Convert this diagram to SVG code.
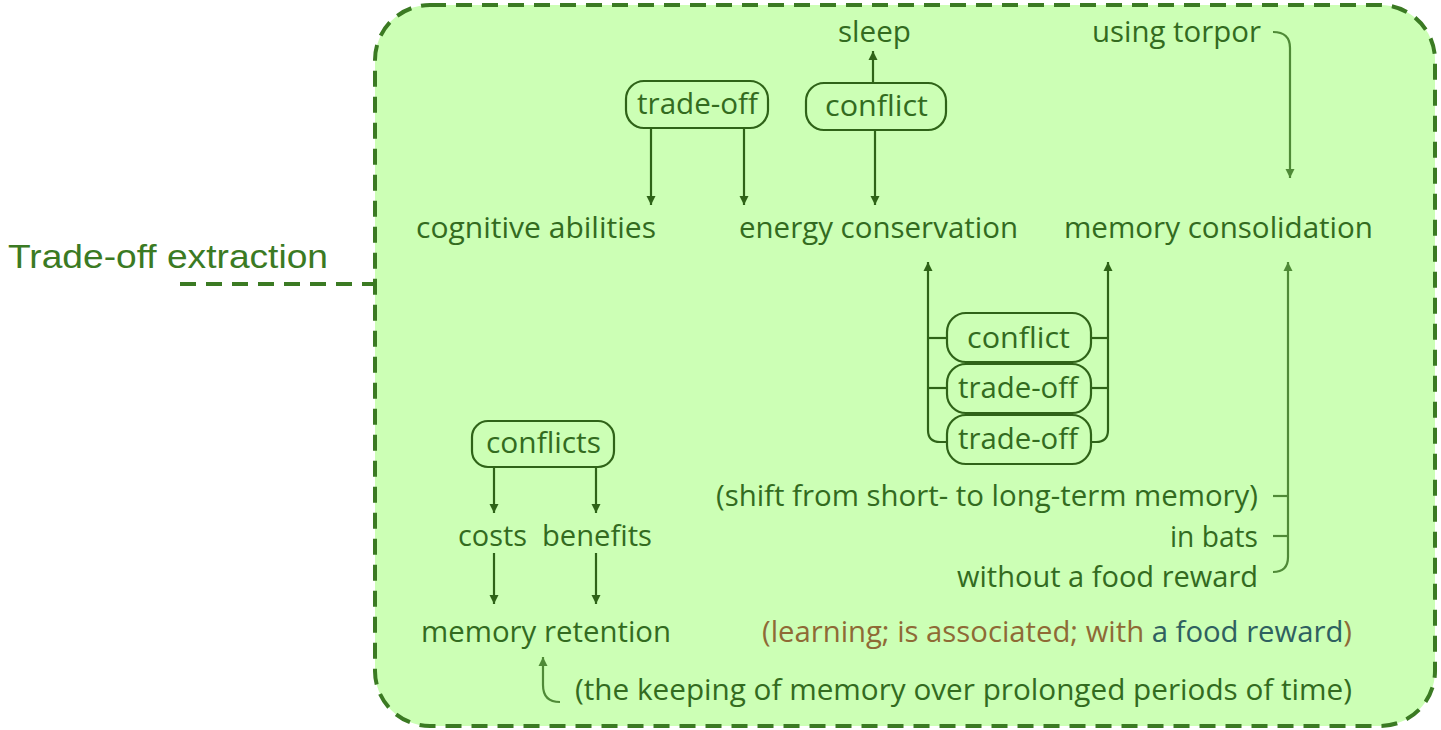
<svg xmlns="http://www.w3.org/2000/svg" width="1441" height="730" viewBox="0 0 1441 730">
<style>
.t{font-family:"Open Sans","Noto Sans",sans-serif;font-size:29px;fill:#336b1f}
.box{fill:none;stroke:#2f6318;stroke-width:2.2}
.ln{fill:none;stroke:#2f6318;stroke-width:2.2}
.lt{fill:none;stroke:#4f8a37;stroke-width:2.2}
.br{fill:#8f6a35}
.tl{fill:#2f6060}
</style>
<defs>
<marker id="ah" viewBox="0 0 10 10" refX="10" refY="5" markerWidth="9" markerHeight="10" markerUnits="userSpaceOnUse" orient="auto"><path d="M0,0 L10,5 L0,10 z" fill="#2f6318"/></marker>
<marker id="ahl" viewBox="0 0 10 10" refX="10" refY="5" markerWidth="9" markerHeight="10" markerUnits="userSpaceOnUse" orient="auto"><path d="M0,0 L10,5 L0,10 z" fill="#4f8a37"/></marker>
</defs>
<g id="frame">
<rect x="375" y="5" width="1060" height="721" rx="55" fill="#ccffb5" stroke="#3b7a23" stroke-width="4" stroke-dasharray="16,10"/>
<path d="M180,284 H375" fill="none" stroke="#3b7a23" stroke-width="4" stroke-dasharray="16,10"/>
<text x="8" y="268" font-family="Liberation Sans, Arial, sans-serif" font-size="33" fill="#3b7a23" textLength="320" lengthAdjust="spacingAndGlyphs">Trade-off extraction</text>
</g>
<g id="connectors">
<path class="ln" d="M873,83 V51" marker-end="url(#ah)"/>
<path class="ln" d="M875,130 V205" marker-end="url(#ah)"/>
<path class="ln" d="M651,128 V205" marker-end="url(#ah)"/>
<path class="ln" d="M744,128 V205" marker-end="url(#ah)"/>
<path class="lt" d="M1273,32 Q1290,32 1290,48 V178" marker-end="url(#ahl)"/>
<path class="ln" d="M928,430 V262" marker-end="url(#ah)"/>
<path class="ln" d="M947,442 H940 Q928,442 928,430"/>
<path class="ln" d="M928,338 H947"/>
<path class="ln" d="M928,388 H947"/>
<path class="ln" d="M1108,430 V262" marker-end="url(#ah)"/>
<path class="ln" d="M1091,442 H1096 Q1108,442 1108,430"/>
<path class="ln" d="M1091,338 H1108"/>
<path class="ln" d="M1091,388 H1108"/>
<path class="lt" d="M1273,572 Q1288,572 1288,557 V262" marker-end="url(#ahl)"/>
<path class="lt" d="M1273,496 H1288"/>
<path class="lt" d="M1273,536 H1288"/>
<path class="ln" d="M494,467 V513" marker-end="url(#ah)"/>
<path class="ln" d="M596,467 V513" marker-end="url(#ah)"/>
<path class="ln" d="M494,553 V604" marker-end="url(#ah)"/>
<path class="ln" d="M596,553 V604" marker-end="url(#ah)"/>
<path class="lt" d="M560,702 Q543,702 543,685 V657" marker-end="url(#ahl)"/>
</g>
<g id="n-sleep"><text class="t" x="838" y="42" textLength="73" lengthAdjust="spacingAndGlyphs">sleep</text></g>
<g id="n-torpor"><text class="t" x="1092" y="42" textLength="169" lengthAdjust="spacingAndGlyphs">using torpor</text></g>
<g id="n-tradeoff1"><rect class="box" x="626" y="81" width="142" height="47" rx="18"/><text class="t" x="637" y="114" textLength="121" lengthAdjust="spacingAndGlyphs">trade-off</text></g>
<g id="n-conflict1"><rect class="box" x="806" y="83" width="140" height="47" rx="18"/><text class="t" x="825" y="116" textLength="103" lengthAdjust="spacingAndGlyphs">conflict</text></g>
<g id="n-cognitive"><text class="t" x="416" y="238" textLength="240" lengthAdjust="spacingAndGlyphs">cognitive abilities</text></g>
<g id="n-energy"><text class="t" x="739" y="238" textLength="279" lengthAdjust="spacingAndGlyphs">energy conservation</text></g>
<g id="n-consolidation"><text class="t" x="1064" y="238" textLength="309" lengthAdjust="spacingAndGlyphs">memory consolidation</text></g>
<g id="n-conflict2"><rect class="box" x="947" y="313" width="144" height="49" rx="19"/><text class="t" x="967" y="348" textLength="103" lengthAdjust="spacingAndGlyphs">conflict</text></g>
<g id="n-tradeoff2"><rect class="box" x="947" y="364" width="144" height="49" rx="19"/><text class="t" x="958" y="398" textLength="120" lengthAdjust="spacingAndGlyphs">trade-off</text></g>
<g id="n-tradeoff3"><rect class="box" x="947" y="415" width="144" height="49" rx="19"/><text class="t" x="958" y="449" textLength="120" lengthAdjust="spacingAndGlyphs">trade-off</text></g>
<g id="n-shift"><text class="t" x="716" y="506" textLength="542" lengthAdjust="spacingAndGlyphs">(shift from short- to long-term memory)</text></g>
<g id="n-bats"><text class="t" x="1170" y="547" textLength="88" lengthAdjust="spacingAndGlyphs">in bats</text></g>
<g id="n-without"><text class="t" x="957" y="587" textLength="301" lengthAdjust="spacingAndGlyphs">without a food reward</text></g>
<g id="n-conflicts"><rect class="box" x="472" y="421" width="142" height="46" rx="16"/><text class="t" x="486" y="453" textLength="115" lengthAdjust="spacingAndGlyphs">conflicts</text></g>
<g id="n-costs"><text class="t" x="458" y="546" textLength="69" lengthAdjust="spacingAndGlyphs">costs</text></g>
<g id="n-benefits"><text class="t" x="542" y="546" textLength="110" lengthAdjust="spacingAndGlyphs">benefits</text></g>
<g id="n-retention"><text class="t" x="421" y="642" textLength="250" lengthAdjust="spacingAndGlyphs">memory retention</text></g>
<g id="n-learning"><text class="t" x="762" y="642" textLength="590" lengthAdjust="spacingAndGlyphs"><tspan class="br">(learning; is associated; with </tspan><tspan class="tl">a food reward</tspan><tspan class="br">)</tspan></text></g>
<g id="n-keeping"><text class="t" x="575" y="700" textLength="777" lengthAdjust="spacingAndGlyphs">(the keeping of memory over prolonged periods of time)</text></g>
</svg>
